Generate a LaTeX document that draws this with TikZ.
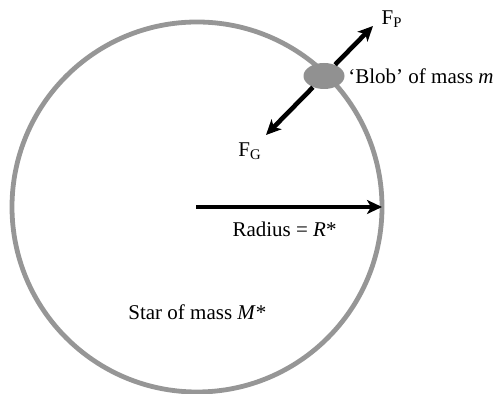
\documentclass[tikz,border=0pt]{standalone}
\usepackage{fontspec}
\setmainfont{Liberation Serif}
\usetikzlibrary{arrows.meta,positioning,shapes.geometric}
\definecolor{stargray}{RGB}{150,150,150}
\definecolor{blobgray}{RGB}{145,145,145}

\begin{document}
\begin{tikzpicture}[x=0.5pt, y=0.5pt, font=\fontsize{10.5}{12}\selectfont,
  force/.style={-{Stealth[length=7.5pt,width=7pt,inset=2pt]}, line width=2.3pt, black},
  txt/.style={inner sep=0pt}]
  \useasboundingbox (0,0) rectangle (496,394);
  % the star
  \node[circle, draw=stargray, line width=2.4pt, minimum size=185pt, inner sep=0pt, outer sep=0pt] (star) at (197,187) {};
  \coordinate (centre) at (196,187);
  \draw[force] (centre) -- (star.east);
  \node[txt] (radiuslabel) at (284.5,165) {Radius = \textit{R}*};
  \node[txt, anchor=west] (starlabel) at (128,82) {Star of mass \textit{M}*};

  % the blob and its forces
  \node[ellipse, fill=blobgray, minimum width=20.5pt, minimum height=13pt, inner sep=0pt] (blob) at (324,318) {};
  \coordinate (fptip) at (373,368);
  \coordinate (fgtip) at (266,259);
  \draw[force] (blob) -- (fptip);
  \draw[force] (blob) -- (fgtip);
  \node[txt] (fp) at (392,375) {F\textsubscript{P}};
  \node[txt] (fg) at (250,243) {F\textsubscript{G}};
  \node[txt, anchor=west] (bloblabel) at (348,318) {`Blob' of mass \textit{m}};
\end{tikzpicture}
\end{document}
